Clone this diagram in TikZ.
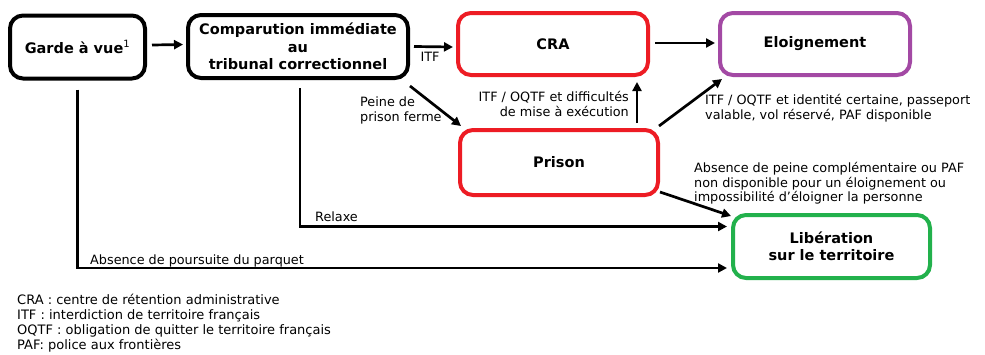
\documentclass[tikz,border=0pt]{standalone}
\usepackage{fontspec}
\setmainfont{DejaVu Sans}
\usetikzlibrary{arrows.meta}
\definecolor{pred}{HTML}{ED1C24}
\definecolor{ppurple}{HTML}{A349A4}
\definecolor{pgreen}{HTML}{22B14C}
\begin{document}
\begin{tikzpicture}[x=1pt,y=-1pt,
  box/.style={draw,line width=4pt,rounded corners=13pt,align=center,
    font=\fontsize{14.5}{17.5}\selectfont\bfseries,inner sep=0pt},
  arr/.style={line width=2.7pt,-{Triangle[length=9pt,width=9pt]}},
  lbl/.style={font=\fontsize{12.8}{14.5}\selectfont,inner sep=0pt},
  leg/.style={font=\fontsize{13}{14.8}\selectfont,inner sep=0pt,align=left}]
\useasboundingbox[fill=white] (0,0) rectangle (985,354);
% boxes
\node[box,minimum width=135pt,minimum height=63pt] (garde) at (77.5,47) {Garde à vue\textsuperscript{\normalfont\fontsize{10}{10}\selectfont 1}};
\node[box,minimum width=220pt,minimum height=63pt] (comp) at (298,46.5) {Comparution immédiate\\au\\tribunal correctionnel};
\node[box,draw=pred,minimum width=190pt,minimum height=62pt] (cra) at (553,44) {CRA};
\node[box,draw=ppurple,minimum width=190pt,minimum height=62pt] (eloi) at (815,44) {Eloignement};
\node[box,draw=pred,minimum width=198pt,minimum height=65pt] (prison) at (559,162.5) {Prison};
\node[box,draw=pgreen,minimum width=197pt,minimum height=63pt] (lib) at (831.5,246.5) {Libération\\sur le territoire};
% arrows
\draw[arr] ([shift={(5,-2)}]garde.east) -- ([shift={(-3,-2)}]comp.west);
\draw[arr] ([shift={(4,0)}]comp.east) -- ([shift={(-3,3)}]cra.west);
\draw[arr] ([shift={(5,-1)}]cra.east) -- ([shift={(-3,-1)}]eloi.west);
\draw[arr] ([shift={(0,6)}]comp.south east) -- ([shift={(3,-2)}]prison.north west);
\draw[arr] ([shift={(78,-5)}]prison.north) -- ([shift={(84,5)}]cra.south);
\draw[arr] ([shift={(-1,-2)}]prison.north east) -- ([shift={(4,2)}]eloi.south west);
\draw[arr] ([shift={(0,-5)}]prison.south east) -- ([shift={(0,3)}]lib.north west);
\draw[arr] ([shift={(2,8)}]comp.south) |- ([shift={(-4,-20)}]lib.west);
\draw[arr] ([shift={(0,9)}]garde.south) |- ([shift={(-4,21.5)}]lib.west);
% labels
\node[lbl,anchor=base] (litf) at (430,61) {ITF};
\node[lbl,anchor=north west,align=left] (lpeine) at (360,97) {Peine de\\prison ferme};
\node[lbl,anchor=north east,align=right] (ldiff) at (629,91.5) {ITF / OQTF et difficultés\\de mise à exécution};
\node[lbl,anchor=north west,align=left] (lid) at (705,94.5) {ITF / OQTF et identité certaine, passeport\\valable, vol réservé, PAF disponible};
\node[lbl,anchor=north west,align=left] (labs) at (694,162.5) {Absence de peine complémentaire ou PAF\\non disponible pour un éloignement ou\\impossibilité d'éloigner la personne};
\node[lbl,anchor=base west] (lrel) at (315,221.5) {Relaxe};
\node[lbl,anchor=base west] (lpar) at (90,264.5) {Absence de poursuite du parquet};
\node[leg,anchor=north west] (legend) at (17,294) {CRA : centre de rétention administrative\\ITF : interdiction de territoire français\\OQTF : obligation de quitter le territoire français\\PAF: police aux frontières};
\end{tikzpicture}
\end{document}
